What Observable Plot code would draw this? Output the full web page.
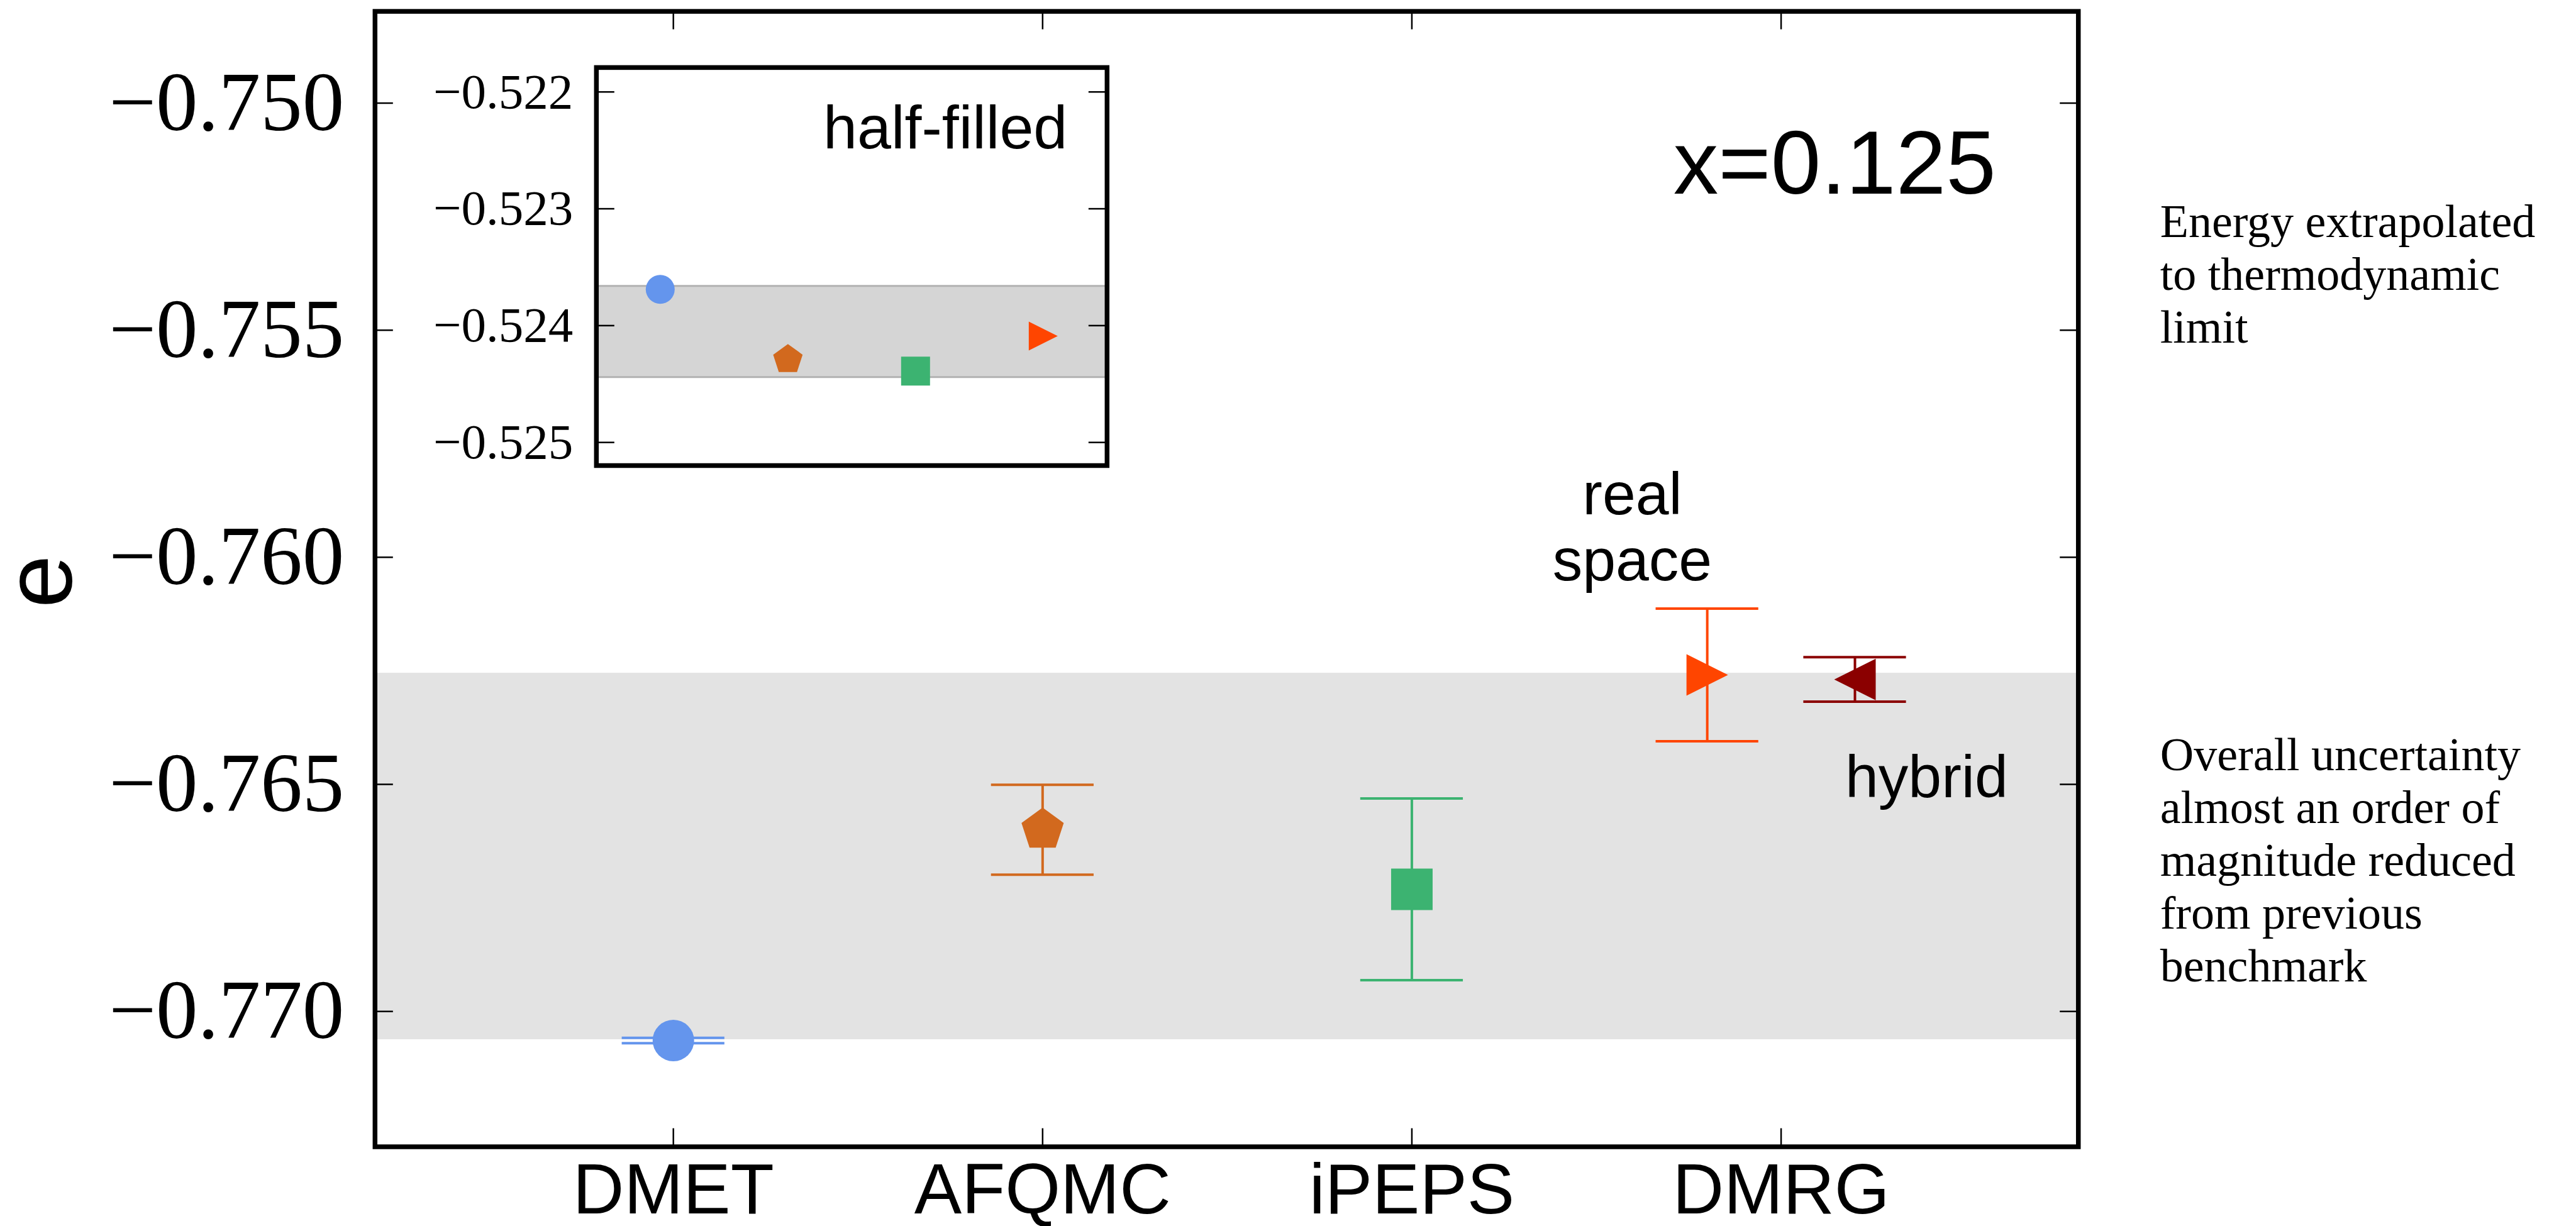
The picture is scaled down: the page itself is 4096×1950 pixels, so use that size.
<!DOCTYPE html>
<html>
<head>
<meta charset="utf-8">
<script src="https://cdn.jsdelivr.net/npm/d3@7"></script>
<script src="https://cdn.jsdelivr.net/npm/@observablehq/plot@0.6"></script>
<style>
  html, body { margin: 0; padding: 0; background: #fff; overflow: hidden; }
  #wrap { position: relative; width: 4096px; height: 1950px; background: #fff; }
  #main { position: absolute; left: 0; top: 0; }
  #inset { position: absolute; left: 660px; top: 90px; }
  svg { overflow: visible; }
</style>
</head>
<body>
<div id="wrap"><div id="main"></div><div id="inset"></div></div>
<script>
// ---------- data ----------
const methods = ["DMET", "AFQMC", "iPEPS", "DMRG"];
const methodX = [1, 2, 3, 4];

const seriesNames = ["DMET", "AFQMC", "iPEPS", "DMRG real space", "DMRG hybrid"];
const seriesX = [1, 2, 3, 3.8, 4.2];
const seriesE = [-0.77064, -0.76600, -0.76731, -0.76259, -0.76269];
const seriesErr = [0.00006, 0.00099, 0.00200, 0.00146, 0.00049];
const seriesColor = ["#6495ED", "#D2691E", "#3CB371", "#FF4500", "#8B0000"];
const seriesShape = ["circle", "pentagon", "square", "triangleRight", "triangleLeft"];

const bandMain = [-0.77062, -0.76255];
const yTicksMain = [-0.770, -0.765, -0.760, -0.755, -0.750];
const xDomainMain = [0.192, 4.805];
const yDomainMain = [-0.77298, -0.74798];

const insetNames = ["DMET", "AFQMC", "iPEPS", "DMRG"];
const insetX = [1, 2, 3, 4];
const insetE = [-0.52369, -0.52429, -0.52439, -0.52409];
const insetColor = ["#6495ED", "#D2691E", "#3CB371", "#FF4500"];
const insetShape = ["circle", "pentagon", "square", "triangleRight"];
const bandInset = [-0.52444, -0.52366];
const yTicksInset = [-0.525, -0.524, -0.523, -0.522];
const xDomainInset = [0.5, 4.5];
const yDomainInset = [-0.525198, -0.521791];

const annotRight1 = "Energy extrapolated\nto thermodynamic\nlimit";
const annotRight2 = "Overall uncertainty\nalmost an order of\nmagnitude reduced\nfrom previous\nbenchmark";

// ---------- custom marker shapes ----------
const rOf = size => Math.sqrt(size / Math.PI);
const symbols = {
  circle: "circle",
  square: { draw(c, s) { const r = rOf(s); c.rect(-r, -r, 2 * r, 2 * r); } },
  pentagon: { draw(c, s) {
    const R = rOf(s) * 1.07;
    for (let i = 0; i < 5; i++) {
      const a = -Math.PI / 2 + i * 2 * Math.PI / 5;
      const x = R * Math.cos(a), y = R * Math.sin(a);
      i ? c.lineTo(x, y) : c.moveTo(x, y);
    }
    c.closePath();
  } },
  triangleRight: { draw(c, s) { const r = rOf(s); c.moveTo(r, 0); c.lineTo(-r, -r); c.lineTo(-r, r); c.closePath(); } },
  triangleLeft: { draw(c, s) { const r = rOf(s); c.moveTo(-r, 0); c.lineTo(r, -r); c.lineTo(r, r); c.closePath(); } }
};

const rows = seriesNames.map((name, i) => ({
  name, x: seriesX[i], e: seriesE[i], err: seriesErr[i], color: seriesColor[i], shape: seriesShape[i]
}));
const insetRows = insetNames.map((name, i) => ({
  name, x: insetX[i], e: insetE[i], color: insetColor[i], shape: insetShape[i]
}));

const sans = "Liberation Sans, Arial, Helvetica, sans-serif";
const serif = "Liberation Serif, Times New Roman, serif";

// ---------- main chart ----------
const W = 4096, H = 1950;
const mL = 595.8, mR = W - 3304.2, mT = 17.6, mB = H - 1823.5;
const frameW = W - mL - mR, frameH = H - mT - mB;
const tickLen = 29;
const capHalf = 0.139; // half width of error-bar caps, in x units

const main = Plot.plot({
  width: W, height: H,
  marginLeft: mL, marginRight: mR, marginTop: mT, marginBottom: mB,
  style: { background: "transparent", color: "black", overflow: "visible" },
  x: { domain: xDomainMain, axis: null },
  y: { domain: yDomainMain, axis: null },
  marks: [
    Plot.rect([bandMain], { x1: xDomainMain[0], x2: xDomainMain[1], y1: d => d[0], y2: d => d[1], fill: "#e3e3e3" }),
    // error bars
    Plot.ruleX(rows, { x: "x", y1: d => d.e - d.err, y2: d => d.e + d.err, stroke: "color", strokeWidth: 4 }),
    Plot.ruleY(rows, { y: d => d.e - d.err, x1: d => d.x - capHalf, x2: d => d.x + capHalf, stroke: "color", strokeWidth: 4 }),
    Plot.ruleY(rows, { y: d => d.e + d.err, x1: d => d.x - capHalf, x2: d => d.x + capHalf, stroke: "color", strokeWidth: 4 }),
    // markers
    ...rows.map(d => Plot.dot([d], { x: "x", y: "e", r: 33, fill: "color", stroke: "none", symbol: symbols[d.shape] })),
    // ticks (inward)
    Plot.tickY(yTicksMain, { insetRight: frameW - tickLen, stroke: "black", strokeWidth: 2.5 }),
    Plot.tickY(yTicksMain, { insetLeft: frameW - tickLen, stroke: "black", strokeWidth: 2.5 }),
    Plot.tickX(methodX, { insetTop: frameH - tickLen, stroke: "black", strokeWidth: 2.5 }),
    Plot.tickX(methodX, { insetBottom: frameH - tickLen, stroke: "black", strokeWidth: 2.5 }),
    // axes labels
    Plot.axisY(yTicksMain, { anchor: "left", tickSize: 0, tickPadding: 49, tickFormat: d3.format(".3f"),
      fontSize: 133, fontFamily: serif, label: null }),
    Plot.axisX(methodX, { anchor: "bottom", tickSize: 0, tickPadding: 26, tickFormat: d => methods[d - 1],
      fontSize: 113, fontFamily: sans, label: null }),
    Plot.text(["e"], { frameAnchor: "left", dx: -531, dy: 4, rotate: -90, fontSize: 152, fontFamily: sans,
      fill: "black", lineAnchor: "middle", textAnchor: "middle" }),
    // annotations
    Plot.text(["x=0.125"], { frameAnchor: "top-right", dx: -131, dy: 290, textAnchor: "end", lineAnchor: "bottom",
      fontSize: 143, fontFamily: sans, fill: "black" }),
    Plot.text([{ x: 3.597, y: -0.76051, t: "real\nspace" }], { x: "x", y: "y", text: "t", textAnchor: "middle",
      lineAnchor: "bottom", lineHeight: 1.106, fontSize: 95, fontFamily: sans, fill: "black" }),
    Plot.text([{ x: 4.394, y: -0.76528, t: "hybrid" }], { x: "x", y: "y", text: "t", textAnchor: "middle",
      lineAnchor: "bottom", fontSize: 95, fontFamily: sans, fill: "black" }),
    Plot.text([annotRight1], { frameAnchor: "top-right", dx: 130, dy: 526.4, textAnchor: "start", lineAnchor: "bottom",
      lineHeight: 1.135, fontSize: 74, fontFamily: serif, fill: "black" }),
    Plot.text([annotRight2], { frameAnchor: "top-right", dx: 130, dy: 1542.8, textAnchor: "start", lineAnchor: "bottom",
      lineHeight: 1.135, fontSize: 74, fontFamily: serif, fill: "black" }),
    Plot.frame({ stroke: "black", strokeWidth: 7.5 })
  ]
});
document.getElementById("main").appendChild(main);

// ---------- inset ----------
const IW = 1110, IH = 660;
const iL = 947.8 - 660, iR = IW - (1759.8 - 660), iT = 106.9 - 90, iB = IH - (740 - 90);
const iFrameW = IW - iL - iR;
const inset = Plot.plot({
  width: IW, height: IH,
  marginLeft: iL, marginRight: iR, marginTop: iT, marginBottom: iB,
  style: { background: "transparent", color: "black", overflow: "visible" },
  x: { domain: xDomainInset, axis: null },
  y: { domain: yDomainInset, axis: null },
  marks: [
    Plot.frame({ fill: "white", stroke: "none" }),
    Plot.rect([bandInset], { x1: xDomainInset[0], x2: xDomainInset[1], y1: d => d[0], y2: d => d[1], fill: "#d5d5d5" }),
    Plot.ruleY(bandInset, { stroke: "#b2b2b2", strokeWidth: 3 }),
    ...insetRows.map(d => Plot.dot([d], { x: "x", y: "e", r: 23, fill: "color", stroke: "none", symbol: symbols[d.shape] })),
    Plot.tickY(yTicksInset, { insetRight: iFrameW - 29, stroke: "black", strokeWidth: 2.5 }),
    Plot.tickY(yTicksInset, { insetLeft: iFrameW - 29, stroke: "black", strokeWidth: 2.5 }),
    Plot.axisY(yTicksInset, { anchor: "left", tickSize: 0, tickPadding: 37, tickFormat: d3.format(".3f"),
      fontSize: 79, fontFamily: serif, label: null }),
    Plot.text(["half-filled"], { frameAnchor: "top-right", dx: -63, dy: 128.6, textAnchor: "end", lineAnchor: "bottom",
      fontSize: 97, fontFamily: sans, fill: "black" }),
    Plot.frame({ stroke: "black", strokeWidth: 7.5 })
  ]
});
document.getElementById("inset").appendChild(inset);
</script>
</body>
</html>
